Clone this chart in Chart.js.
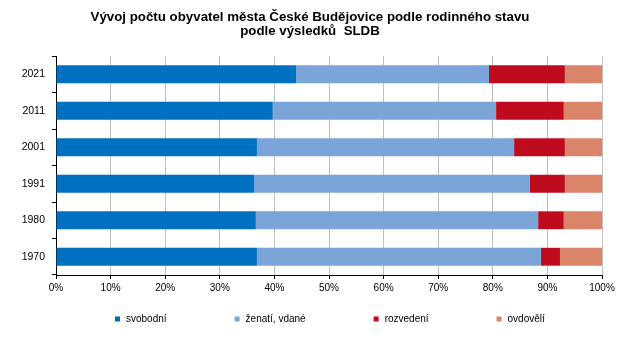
<!DOCTYPE html>
<html>
<head>
<meta charset="utf-8">
<script src="https://cdn.jsdelivr.net/npm/chart.js@4/dist/chart.umd.min.js"></script>
<style>
  html, body { margin: 0; padding: 0; background: #ffffff; }
  #wrap { width: 643px; height: 340px; }
</style>
</head>
<body>
<div id="wrap"><canvas id="chart" width="643" height="340"></canvas></div>
<script>
// Census years (SLDB), newest first
const years = ['2021', '2011', '2001', '1991', '1980', '1970'];

// Share of population by marital status, in %
const svobodni  = [44.0, 39.7, 36.8, 36.3, 36.6, 36.8];
const zenati    = [35.3, 40.9, 47.1, 50.5, 51.7, 52.0];
const rozvedeni = [13.9, 12.4,  9.3,  6.4,  4.7,  3.5];
const ovdoveli  = [ 6.8,  7.0,  6.8,  6.8,  7.0,  7.7];

const seriesNames = ['svobodní', 'ženatí, vdané', 'rozvedení', 'ovdovělí'];
const percentTicks = [0, 10, 20, 30, 40, 50, 60, 70, 80, 90, 100];
const titleLines = [
  'Vývoj počtu obyvatel města České Budějovice podle rodinného stavu',
  'podle výsledků  SLDB'
];

const FONT = '"Liberation Sans", Arial, sans-serif';

// Single-row legend drawn under the axis with wide, even gaps between entries
const legendRow = {
  id: 'legendRow',
  afterDraw(chart, args, opts) {
    const ctx = chart.ctx;
    ctx.save();
    ctx.font = opts.fontSize + 'px ' + FONT;
    ctx.textBaseline = 'middle';
    ctx.textAlign = 'left';
    let x = opts.startX;
    chart.data.datasets.forEach(ds => {
      const s = opts.box;
      ctx.fillStyle = ds.backgroundColor;
      ctx.fillRect(x, opts.y - s / 2, s, s);
      ctx.fillStyle = '#000000';
      const tx = x + s + opts.textGap;
      ctx.fillText(ds.label, tx, opts.y);
      x = tx + ctx.measureText(ds.label).width + opts.itemGap;
    });
    ctx.restore();
  }
};

const colors = ['#0070C0', '#7BA5D8', '#BE0B1E', '#DA846A'];
const seriesData = [svobodni, zenati, rozvedeni, ovdoveli];

new Chart(document.getElementById('chart'), {
  type: 'bar',
  data: {
    labels: years,
    datasets: seriesNames.map((name, i) => ({
      label: name,
      data: seriesData[i],
      backgroundColor: colors[i],
      borderWidth: 0,
      barPercentage: 0.49,
      categoryPercentage: 1.0
    }))
  },
  options: {
    indexAxis: 'y',
    responsive: false,
    animation: false,
    devicePixelRatio: 1,
    layout: { padding: { left: 18, right: 41, top: 0, bottom: 45 } },
    plugins: {
      legend: { display: false },
      tooltip: { enabled: false },
      title: {
        display: true,
        text: titleLines,
        color: '#000000',
        font: { family: FONT, size: 13.3, weight: 'bold', lineHeight: 1.08 },
        padding: { top: 10, bottom: 17.3 }
      },
      legendRow: { startX: 115, y: 319, box: 5, textGap: 6, itemGap: 68, fontSize: 10 }
    },
    scales: {
      x: {
        stacked: true,
        min: 0,
        max: 100,
        afterBuildTicks(scale) {
          scale.ticks = percentTicks.map(v => ({ value: v }));
        },
        afterFit(scale) {
          scale.paddingLeft = 0;
          scale.paddingRight = 0;
          scale.height = 20;
        },
        grid: {
          color: '#BFBFBF',
          tickColor: '#000000',
          tickLength: 4,
          lineWidth: 1
        },
        border: { color: '#000000', width: 1 },
        ticks: {
          padding: 3,
          color: '#000000',
          font: { family: FONT, size: 10 },
          callback: v => v + '%'
        }
      },
      y: {
        stacked: true,
        afterFit(scale) {
          scale.width = 38;
        },
        grid: {
          drawOnChartArea: false,
          tickColor: '#000000',
          tickLength: 4,
          offset: true
        },
        border: { color: '#000000', width: 1 },
        ticks: {
          padding: 7,
          color: '#000000',
          font: { family: FONT, size: 10.5 }
        }
      }
    }
  },
  plugins: [legendRow]
});
</script>
</body>
</html>
